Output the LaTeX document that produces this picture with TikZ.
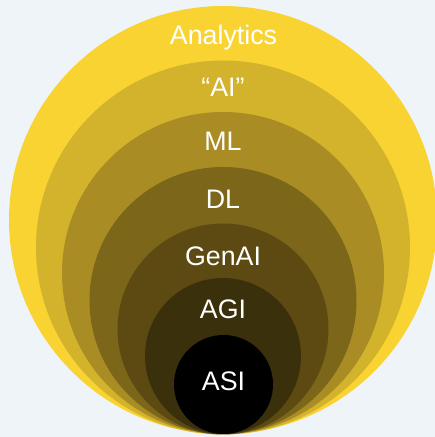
\documentclass[tikz,border=0pt]{standalone}
\usepackage{fontspec}
\setmainfont{Liberation Sans}
\definecolor{bg}{HTML}{EFF4F8}
\definecolor{c1}{HTML}{F9D332}
\definecolor{c2}{HTML}{D3B22C}
\definecolor{c3}{HTML}{A98D24}
\definecolor{c4}{HTML}{7B6619}
\definecolor{c5}{HTML}{5C4A12}
\definecolor{c6}{HTML}{3B300C}
\definecolor{c7}{HTML}{000000}
\begin{document}
\begin{tikzpicture}[x=1pt,y=1pt,
  lbl/.style={text=white,font=\fontsize{26.8}{27}\selectfont,inner sep=0pt,anchor=base}]
\useasboundingbox (0,0) rectangle (435,437);
\fill[bg] (0,0) rectangle (435,437);
\begin{scope}
\clip (0,0) rectangle (435,437);
\fill[c1] (223,{437-220}) circle (214);
\fill[c2] (223,{437-247.5}) circle (187);
\fill[c3] (223,{437-273}) circle (161);
\fill[c4] (223,{437-300.5}) circle (133.5);
\fill[c5] (223,{437-329}) circle (105.5);
\fill[c6] (223,{437-356}) circle (78);
\fill[c7] (223.5,{437-384.5}) circle (49.5);
\end{scope}
\node[lbl] (analytics) at (223.5,{437-45}) {Analytics};
\node[lbl] (ai) at (223,{437-97}) {“AI”};
\node[lbl] (ml) at (223,{437-151}) {ML};
\node[lbl] (dl) at (223,{437-209}) {DL};
\node[lbl] (genai) at (223,{437-266}) {GenAI};
\node[lbl] (agi) at (223,{437-319}) {AGI};
\node[lbl] (asi) at (223.5,{437-391}) {ASI};
\end{tikzpicture}
\end{document}
